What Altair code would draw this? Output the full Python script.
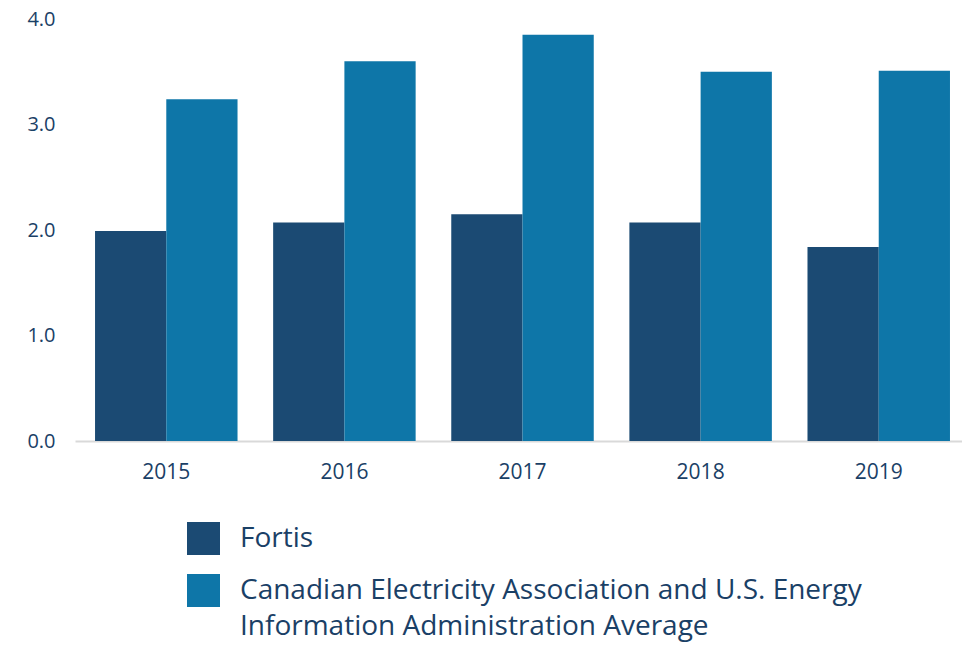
import altair as alt
import pandas as pd

years = ["2015", "2016", "2017", "2018", "2019"]
fortis = [1.99, 2.07, 2.15, 2.07, 1.84]
cea_eia = [3.24, 3.60, 3.85, 3.50, 3.51]
series = ["Fortis", "Canadian Electricity Association and U.S. Energy Information Administration Average"]
series_lines = [["Fortis"], ["Canadian Electricity Association and U.S. Energy", "Information Administration Average"]]
colors = ["#1b4a73", "#0e76a8"]
y_ticks = [0, 1, 2, 3, 4]

rows = []
for i, yr in enumerate(years):
    rows.append({"year": yr, "series": series[0], "value": fortis[i]})
    rows.append({"year": yr, "series": series[1], "value": cea_eia[i]})
df = pd.DataFrame(rows)

text_color = "#1a4066"
font = "Open Sans"

label_expr = "datum.value == '%s' ? '%s' : ['%s', '%s']" % (
    series[0], series_lines[0][0], series_lines[1][0], series_lines[1][1])

chart = alt.Chart(df).mark_bar().encode(
    x=alt.X("year:N", sort=years, title=None,
            scale=alt.Scale(paddingInner=0.2, paddingOuter=0.09, align=0.625),
            axis=alt.Axis(labelAngle=0, labelFontSize=21, labelColor=text_color, labelFont=font,
                          domainColor="#d9d9d9", domainWidth=2, ticks=False, labelPadding=20)),
    xOffset=alt.XOffset("series:N", sort=series),
    y=alt.Y("value:Q", title=None,
            scale=alt.Scale(domain=[0, 4], nice=False),
            axis=alt.Axis(values=y_ticks, format=".1f", grid=False, domain=False, ticks=False,
                          labelFontSize=20, labelColor=text_color, labelFont=font, labelPadding=20)),
    color=alt.Color("series:N", sort=series,
                    scale=alt.Scale(domain=series, range=colors),
                    legend=alt.Legend(title=None, orient="none", legendX=112, legendY=503,
                                      direction="vertical", symbolType="square", symbolSize=1089,
                                      symbolStrokeWidth=0, symbolOpacity=1,
                                      labelFontSize=28, labelFont=font, labelColor=text_color,
                                      labelLimit=0, labelOffset=20, rowPadding=19, padding=0,
                                      labelExpr=label_expr)),
).properties(
    width=887, height=422,
    autosize=alt.AutoSizeParams(type="none"),
    padding={"left": 67, "top": 11, "right": 0, "bottom": 201},
).configure(
    view=alt.ViewConfig(stroke=None),
    style={"guide-label": {"lineHeight": 36}},
)

chart.save("out.html", embed_options={"renderer": "svg", "actions": False})
